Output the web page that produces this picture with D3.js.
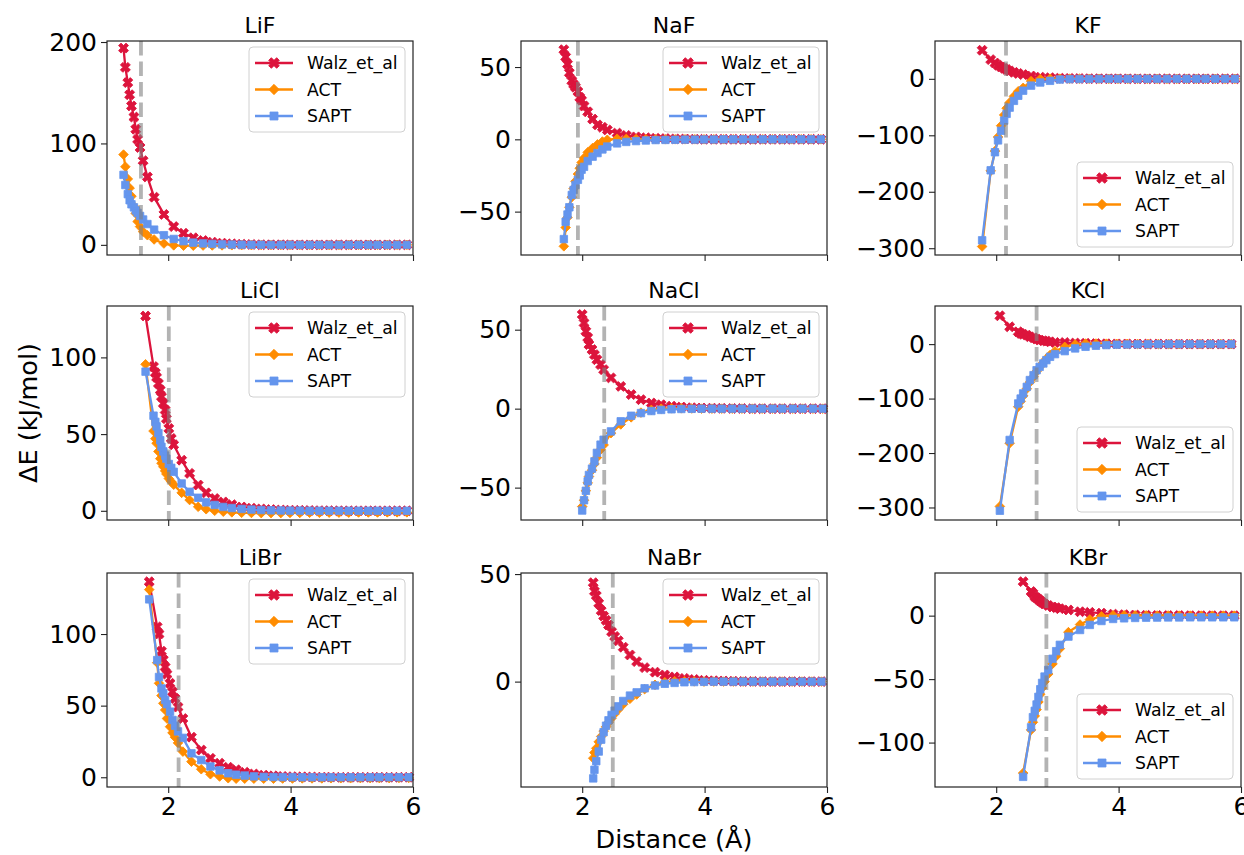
<!DOCTYPE html>
<html><head><meta charset="utf-8">
<script src="https://cdn.jsdelivr.net/npm/d3@7"></script>
<style>
body{margin:0;background:#fff}
svg{display:block}
text{font-family:"DejaVu Sans",sans-serif;fill:#000}
</style>
</head><body>
<svg id="chart" width="1244" height="855"></svg>
<script>
// ---------------- data ----------------
const panelNames = ["LiF","NaF","KF","LiCl","NaCl","KCl","LiBr","NaBr","KBr"];
const seriesNames = ["Walz_et_al","ACT","SAPT"];
const xLimits = [1, 6];
const xTickValues = [2, 4, 6];
const refDistance = [1.555, 1.93, 2.16, 2.01, 2.36, 2.66, 2.17, 2.50, 2.82];
const yLimits = [[-10,201],[-80,68],[-312,67],[-6,133.5],[-70.5,65],[-323,70],[-6.8,142.6],[-49,50.5],[-135,33.6]];
const yTickValues = [[0,100,200],[-50,0,50],[-300,-200,-100,0],[0,50,100],[-50,0,50],[-300,-200,-100,0],[0,50,100],[0,50],[-100,-50,0]];
const legendCorner = ["upper","upper","lower","upper","upper","lower","upper","upper","lower"];

const LiF_x = [1.27,1.30,1.34,1.37,1.40,1.44,1.47,1.50,1.54,1.59,1.66,1.77,1.93,2.09,2.25,2.41,2.57,2.72,2.88,3.04,3.20,3.36,3.52,3.68,3.84,3.99,4.15,4.31,4.47,4.63,4.79,4.95,5.11,5.27,5.42,5.58,5.74,5.90];
const LiF_walz = [194,175,160,148,137,126,114,104,96,83,67,47,30,18,11.5,7,4.3,2.7,1.7,1.0,0.6,0.4,0.2,0.1,0.1,0,0,0,0,0,0,0,0,0,0,0,0,0];
const LiF_act = [89,77,65,56,48,38,31,23,18,13,9.5,5.3,1.3,-0.5,-0.8,-0.8,-0.7,-0.6,-0.5,-0.4,-0.3,-0.3,-0.2,-0.2,-0.2,-0.1,-0.1,-0.1,-0.1,-0.1,0,0,0,0,0,0,0,0];
const LiF_sapt = [69,59,50,44,40,37,34,31.5,28.5,25,20.5,15,9.5,5.8,3.6,2.2,1.4,0.9,0.5,0.3,0.2,0.1,0.1,0,0,0,0,0,0,0,0,0,0,0,0,0,0,0];

const NaF_x = [1.70,1.73,1.76,1.79,1.83,1.86,1.89,1.93,1.96,1.99,2.03,2.09,2.17,2.25,2.33,2.41,2.57,2.72,2.88,3.04,3.20,3.36,3.52,3.68,3.84,3.99,4.15,4.31,4.47,4.63,4.79,4.95,5.11,5.27,5.42,5.58,5.74,5.90];
const NaF_walz = [62,57,52,46,40.5,38,36,33,29,27,23,19,14,10,8.3,6.5,4.3,2.7,1.7,1.1,0.7,0.5,0.3,0.2,0.1,0,0,0,0,0,0,0,0,0,0,0,0,0];
const NaF_act = [-74,-61,-54,-47,-40,-34,-29,-24,-20,-16,-13,-9,-6,-3.5,-1.5,-0.3,0.4,0.3,0.2,0.1,0.1,0,0,0,0,0,0,0,0,0,0,0,0,0,0,0,0,0];
const NaF_sapt = [-69,-57,-52,-47,-38.5,-35,-31.6,-28,-25,-21,-19,-15,-12,-9.5,-7,-5,-2.8,-1.8,-1.2,-0.8,-0.5,-0.4,-0.3,-0.2,-0.2,-0.1,-0.1,0,0,0,0,0,0,0,0,0,0,0];

const KF_x = [1.77,1.91,1.98,2.03,2.08,2.13,2.17,2.22,2.29,2.36,2.44,2.57,2.72,2.88,3.04,3.20,3.36,3.52,3.68,3.84,3.99,4.15,4.31,4.47,4.63,4.79,4.95,5.11,5.27,5.42,5.58,5.74,5.90];
const KF_walz = [50.6,34,28,24,21,18.5,16.5,14,11.5,9.5,7.5,5,3,2,1.2,0.8,0.5,0.3,0.2,0.1,0.1,0,0,0,0,0,0,0,0,0,0,0,0];
const KF_act = [-297,-163,-128,-103,-83,-64,-52,-42,-31,-22,-16,-4,-0.5,0.3,0.3,0.2,0.2,0.1,0.1,0,0,0,0,0,0,0,0,0,0,0,0,0,0];
const KF_sapt = [-286,-162,-130,-109,-92,-74,-62,-51,-39,-30,-21,-12,-6.5,-3.5,-1.2,-0.5,-0.3,-0.2,-0.1,0,0,0,0,0,0,0,0,0,0,0,0,0,0];

const LiCl_x = [1.63,1.76,1.79,1.81,1.84,1.87,1.89,1.92,1.95,1.97,2.01,2.05,2.09,2.22,2.35,2.49,2.62,2.76,2.90,3.04,3.20,3.36,3.52,3.68,3.84,3.99,4.15,4.31,4.47,4.63,4.79,4.95,5.11,5.27,5.42,5.58,5.74,5.90];
const LiCl_walz = [127,94,90,87,83,78.7,74.4,70,65.7,60,53.7,47.2,43,33,24.4,16.8,11.7,8,5.8,4,2.5,1.7,1.2,0.8,0.5,0.4,0.3,0.2,0.1,0.1,0,0,0,0,0,0,0,0];
const LiCl_act = [95.5,52,47,44,38.7,34,31,28.7,26,24,21,19,17,11.7,7,2.6,1,0,-0.6,-1,-1.3,-1.4,-1.5,-1.5,-1.5,-1.4,-1.4,-1.3,-1.3,-1.2,-1.2,-1.2,-1.1,-1.1,-1.1,-1.0,-1.0,-1.0];
const LiCl_sapt = [90.7,62,58,55,50.6,46,41.7,38.7,36,34,30.5,28,25.4,17.8,12.4,8.5,5.5,3.8,2.5,1.8,1.2,0.8,0.5,0.3,0.2,0.1,0.1,0,0,0,0,0,0,0,0,0,0,0];

const NaCl_x = [2.00,2.03,2.06,2.09,2.11,2.16,2.20,2.24,2.30,2.35,2.47,2.63,2.80,2.96,3.13,3.29,3.46,3.62,3.79,3.95,4.12,4.28,4.45,4.61,4.78,4.94,5.11,5.27,5.44,5.60,5.77,5.93];
const NaCl_walz = [59.6,54.3,49,45,40.6,37.4,34.2,31,27.9,24.7,19.5,14.1,8.9,5.7,3.6,2.5,1.6,1.0,0.6,0.4,0.3,0.2,0.1,0.1,0,0,0,0,0,0,0,0];
const NaCl_act = [-62,-58,-52,-47,-43,-39,-35,-31,-26,-23,-15.5,-10,-5.5,-2.5,-0.8,0,0.2,0.2,0.1,0,0,0,0,0,0,0,0,0,0,0,0,0];
const NaCl_sapt = [-64.5,-58,-52,-46,-42,-38,-33.4,-28,-22.8,-19.7,-14.4,-8,-4.5,-2.8,-1.5,-0.8,-0.4,-0.2,-0.1,0,0,0,0,0,0,0,0,0,0,0,0,0];

const KCl_x = [2.06,2.22,2.36,2.40,2.44,2.50,2.55,2.61,2.66,2.71,2.77,2.82,2.88,2.96,3.12,3.29,3.46,3.63,3.80,3.97,4.14,4.31,4.48,4.65,4.82,4.99,5.16,5.33,5.50,5.67,5.84];
const KCl_walz = [52,31.8,22.6,19.6,18,16.5,13.5,11.6,9.2,7.4,6.1,5.5,4.3,3.1,3,2,1.5,1,0.6,0.4,0.3,0.2,0.1,0.1,0,0,0,0,0,0,0];
const KCl_act = [-298,-182,-115,-105,-95,-82,-70,-60,-50,-42,-34,-27,-20,-13,-5,-0.5,1,1,0.8,0.5,0.4,0.3,0.2,0.1,0.1,0,0,0,0,0,0];
const KCl_sapt = [-306,-176,-109,-100,-90.6,-78.5,-66,-57,-48,-41.7,-35.5,-29.4,-23.3,-18.4,-12.9,-7.9,-4.9,-3,-1.8,-1,-0.6,-0.4,-0.2,-0.1,0,0,0,0,0,0,0];

const LiBr_x = [1.69,1.82,1.85,1.89,1.92,1.95,1.98,2.03,2.07,2.11,2.16,2.24,2.38,2.54,2.69,2.84,2.98,3.11,3.25,3.40,3.56,3.72,3.87,4.03,4.19,4.35,4.51,4.66,4.82,4.98,5.14,5.30,5.45,5.61,5.77,5.93];
const LiBr_walz = [136.5,105,100,88,82,77,72,65.6,59.7,55,49,41,28,19,13.2,9.8,7,5.2,3.5,2.3,1.5,1.0,0.6,0.4,0.3,0.2,0.1,0.1,0,0,0,0,0,0,0,0];
const LiBr_act = [131,80,65.6,57,51.6,47,41,35.3,31,28,24,17.9,10.9,5.6,2.1,0.5,-0.7,-1,-1,-1,-1,-1,-0.9,-0.9,-0.8,-0.8,-0.8,-0.7,-0.7,-0.7,-0.6,-0.6,-0.6,-0.6,-0.5,-0.5];
const LiBr_sapt = [124.2,81.8,70,62,58.6,54,51,45.8,40,36,32,27.5,16.7,12,7.5,4.8,2.8,1.8,1.2,0.6,0.3,0.2,0.1,0.1,0,0,0,0,0,0,0,0,0,0,0,0];

const NaBr_x = [2.18,2.20,2.23,2.27,2.31,2.35,2.39,2.43,2.48,2.53,2.59,2.67,2.78,2.89,3.02,3.19,3.35,3.51,3.67,3.83,3.99,4.15,4.31,4.47,4.63,4.79,4.95,5.11,5.27,5.43,5.59,5.75,5.91];
const NaBr_walz = [46,42,40,36.4,33,30.5,28.5,26.3,23.2,21,19,16,12.4,9.3,6.5,4.4,3.1,2.2,1.5,1.0,0.6,0.4,0.3,0.2,0.1,0.1,0,0,0,0,0,0,0];
const NaBr_act = [-35.6,-33,-31,-28,-25.5,-23,-21,-19,-17,-15,-13,-10.5,-8,-6,-3.5,-1.5,-0.3,0.2,0.2,0.1,0,0,0,0,0,0,0,0,0,0,0,0,0];
const NaBr_sapt = [-45,-41,-37,-32.5,-27,-23.5,-20.5,-18,-15.5,-13.5,-11.5,-9,-6.5,-5,-3.1,-1.8,-1,-0.6,-0.3,-0.2,-0.1,0,0,0,0,0,0,0,0,0,0,0,0];

const KBr_x = [2.44,2.57,2.60,2.63,2.66,2.69,2.72,2.75,2.79,2.85,2.92,2.98,3.04,3.18,3.37,3.53,3.72,3.91,4.09,4.27,4.45,4.63,4.81,4.99,5.17,5.35,5.53,5.71,5.89];
const KBr_walz = [26.8,19,17.6,15,14,12.9,11.5,10.5,9.2,8,6.8,6.3,5.5,4.5,3.1,2.6,2,1.2,0.8,0.5,0.3,0.2,0.1,0.1,0,0,0,0,0];
const KBr_act = [-124,-90,-84,-79,-74,-68,-62,-57,-52,-46,-38,-32,-26,-13,-7,-3,-0.5,0.3,0.3,0.2,0.2,0.1,0.1,0,0,0,0,0,0];
const KBr_sapt = [-127,-88,-80,-75,-70,-64,-58,-53,-48,-42.8,-34,-28,-23,-16.5,-11.3,-7.3,-4.2,-2.6,-2.1,-1.8,-1.6,-1.5,-1.4,-1.4,-1.3,-1.3,-1.3,-1.3,-1.3];

const panelX = [LiF_x,NaF_x,KF_x,LiCl_x,NaCl_x,KCl_x,LiBr_x,NaBr_x,KBr_x];
const panelWalz = [LiF_walz,NaF_walz,KF_walz,LiCl_walz,NaCl_walz,KCl_walz,LiBr_walz,NaBr_walz,KBr_walz];
const panelAct = [LiF_act,NaF_act,KF_act,LiCl_act,NaCl_act,KCl_act,LiBr_act,NaBr_act,KBr_act];
const panelSapt = [LiF_sapt,NaF_sapt,KF_sapt,LiCl_sapt,NaCl_sapt,KCl_sapt,LiBr_sapt,NaBr_sapt,KBr_sapt];

// ---------------- style / layout ----------------
const colors = ["#DC143C", "#FF8C00", "#6495ED"];
const markers = [
  {type: d3.symbolCross, size: 62, rot: 45},
  {type: d3.symbolSquare, size: 46, rot: 45},
  {type: d3.symbolSquare, size: 56, rot: 0}
];
const colLeft = [107, 521, 935];
const rowTop = [41, 306, 573];
const PW = 306, PH = 214;
const TICK_FONT = 25, TITLE_FONT = 22, LEG_FONT = 17.3, LABEL_FONT = 25.5;

const svg = d3.select("#chart");

panelNames.forEach((name, i) => {
  const r = Math.floor(i / 3), c = i % 3;
  const L = colLeft[c], T = rowTop[r];
  const g = svg.append("g").attr("transform", `translate(${L},${T})`);
  const x = d3.scaleLinear().domain(xLimits).range([0, PW]);
  const y = d3.scaleLinear().domain(yLimits[i]).range([PH, 0]);

  const xs = panelX[i];
  const series = [panelWalz[i], panelAct[i], panelSapt[i]];

  series.forEach((vals, s) => {
    const pts = xs.map((xv, k) => [xv, vals[k]]);
    g.append("path")
      .attr("d", d3.line().x(d => x(d[0])).y(d => y(d[1]))(pts))
      .attr("fill", "none").attr("stroke", colors[s]).attr("stroke-width", 2.3);
    const sym = d3.symbol().type(markers[s].type).size(markers[s].size)();
    g.append("g").selectAll("path").data(pts).join("path")
      .attr("d", sym)
      .attr("transform", d => `translate(${x(d[0])},${y(d[1])}) rotate(${markers[s].rot})`)
      .attr("fill", colors[s]).attr("stroke", colors[s]).attr("stroke-width", 0.8);
  });

  // reference distance
  g.append("line")
    .attr("x1", x(refDistance[i])).attr("x2", x(refDistance[i]))
    .attr("y1", 0).attr("y2", PH)
    .attr("stroke", "#808080").attr("stroke-opacity", 0.6)
    .attr("stroke-width", 3.8).attr("stroke-dasharray", "14.5,6");

  // legend
  const LW = 156, LH = 85;
  const lx = PW - 8 - LW;
  const ly = legendCorner[i] === "upper" ? 6 : PH - 8 - LH;
  const lg = g.append("g").attr("transform", `translate(${lx},${ly})`);
  lg.append("rect").attr("width", LW).attr("height", LH).attr("rx", 4)
    .attr("fill", "#fff").attr("fill-opacity", 0.8)
    .attr("stroke", "#d0d0d0").attr("stroke-width", 1);
  seriesNames.forEach((sn, s) => {
    const yy = 16 + s * 26.5;
    lg.append("line").attr("x1", 6).attr("x2", 44).attr("y1", yy).attr("y2", yy)
      .attr("stroke", colors[s]).attr("stroke-width", 2.3);
    lg.append("path").attr("d", d3.symbol().type(markers[s].type).size(markers[s].size * 1.15)())
      .attr("transform", `translate(25,${yy}) rotate(${markers[s].rot})`)
      .attr("fill", colors[s]).attr("stroke", colors[s]).attr("stroke-width", 0.8);
    lg.append("text").attr("x", 58).attr("y", yy + 6.3)
      .style("font-size", LEG_FONT + "px").text(sn);
  });

  // axes
  const xAxis = d3.axisBottom(x).tickValues(xTickValues).tickSize(6).tickPadding(4)
    .tickFormat(r === 2 ? d3.format("d") : () => "");
  const yAxis = d3.axisLeft(y).tickValues(yTickValues[i]).tickSize(6).tickPadding(4)
    .tickFormat(d3.format("d"));
  const gx = g.append("g").attr("transform", `translate(0,${PH})`).call(xAxis);
  const gy = g.append("g").call(yAxis);
  [gx, gy].forEach(a => {
    a.select(".domain").remove();
    a.selectAll(".tick line").attr("stroke", "#222").attr("stroke-width", 1.1);
    a.selectAll(".tick text").style("font-size", TICK_FONT + "px")
      .style("font-family", '"DejaVu Sans",sans-serif').attr("fill", "#000");
  });

  // frame
  g.append("rect").attr("width", PW).attr("height", PH)
    .attr("fill", "none").attr("stroke", "#222").attr("stroke-width", 1.2);

  // title
  g.append("text").attr("x", PW / 2).attr("y", -8).attr("text-anchor", "middle")
    .style("font-size", TITLE_FONT + "px").text(name);
});

// axis labels
svg.append("text").attr("x", colLeft[1] + PW / 2).attr("y", 848).attr("text-anchor", "middle")
  .style("font-size", LABEL_FONT + "px").text("Distance (Å)");
svg.append("text")
  .attr("transform", `translate(36.5,${rowTop[1] + PH / 2}) rotate(-90)`)
  .attr("text-anchor", "middle")
  .style("font-size", LABEL_FONT + "px").text("ΔE (kJ/mol)");
</script>
</body></html>
